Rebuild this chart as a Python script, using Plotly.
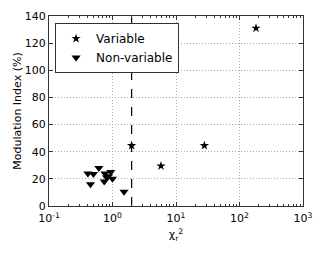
import plotly.graph_objects as go

# Variable sources
var_chi2 = [2.0, 5.8, 28.0, 182.0]
var_mod = [44.5, 29.5, 44.5, 131.0]

# Non-variable sources
nonvar_chi2 = [0.41, 0.50, 0.45, 0.61, 0.76, 0.94, 0.81, 0.74, 1.0, 0.86, 1.52]
nonvar_mod = [24.0, 23.5, 16.0, 28.0, 24.0, 25.0, 21.0, 18.0, 20.0, 22.0, 10.5]

# Threshold line
thresh_x = [2.0, 2.0]
thresh_y = [0, 140]

x_tickvals = [0.1, 1, 10, 100, 1000]
x_ticktext = ["10<sup>-1</sup>", "10<sup>0</sup>", "10<sup>1</sup>", "10<sup>2</sup>", "10<sup>3</sup>"]
y_tickvals = [0, 20, 40, 60, 80, 100, 120, 140]
x_minor = [m * d for d in [0.1, 1, 10, 100] for m in range(2, 10)]

fig = go.Figure()
fig.add_trace(go.Scatter(x=thresh_x, y=thresh_y, mode="lines",
                         line=dict(color="black", width=1.2, dash="dash"),
                         showlegend=False, hoverinfo="skip"))
fig.add_trace(go.Scatter(x=var_chi2, y=var_mod, mode="markers", name="Variable",
                         marker=dict(symbol="star", size=7, color="black")))
fig.add_trace(go.Scatter(x=nonvar_chi2, y=nonvar_mod, mode="markers", name="Non-variable",
                         marker=dict(symbol="triangle-down", size=8, color="black")))

axis_common = dict(showline=True, linecolor="#333", linewidth=1.2, mirror="ticks",
                   ticks="inside", ticklen=4, tickcolor="#333",
                   showgrid=True, gridcolor="#aaa", griddash="1px,2px", gridwidth=1,
                   zeroline=False, automargin=False,
                   tickfont=dict(family="DejaVu Sans", size=11, color="black"))

fig.update_xaxes(type="log", range=[-1, 3], tickvals=x_tickvals, ticktext=x_ticktext,
                 ticklabelstandoff=2,
                 minor=dict(tickvals=x_minor, ticks="inside", ticklen=2, tickcolor="#333", showgrid=False),
                 title=dict(text="χ<sub>r</sub><sup>2</sup>", standoff=6,
                            font=dict(family="DejaVu Sans", size=11, color="black")),
                 **axis_common)
fig.update_yaxes(range=[0, 140], tickvals=y_tickvals,
                 title=dict(text="Modulation Index (%)", standoff=0,
                            font=dict(family="DejaVu Sans", size=11, color="black")),
                 **axis_common)

fig.update_layout(width=325, height=260,
                  margin=dict(l=49, r=22, t=16, b=54),
                  plot_bgcolor="white", paper_bgcolor="white",
                  font=dict(family="DejaVu Sans", size=11, color="black"),
                  legend=dict(x=0.024, y=0.963, xanchor="left", yanchor="top",
                              bordercolor="#333", borderwidth=1, bgcolor="white",
                              font=dict(family="DejaVu Sans", size=12, color="black"),
                              itemwidth=30, tracegroupgap=0))

fig.write_html("out.html", config={"displayModeBar": False},
               post_script="document.body.style.margin='0';")
